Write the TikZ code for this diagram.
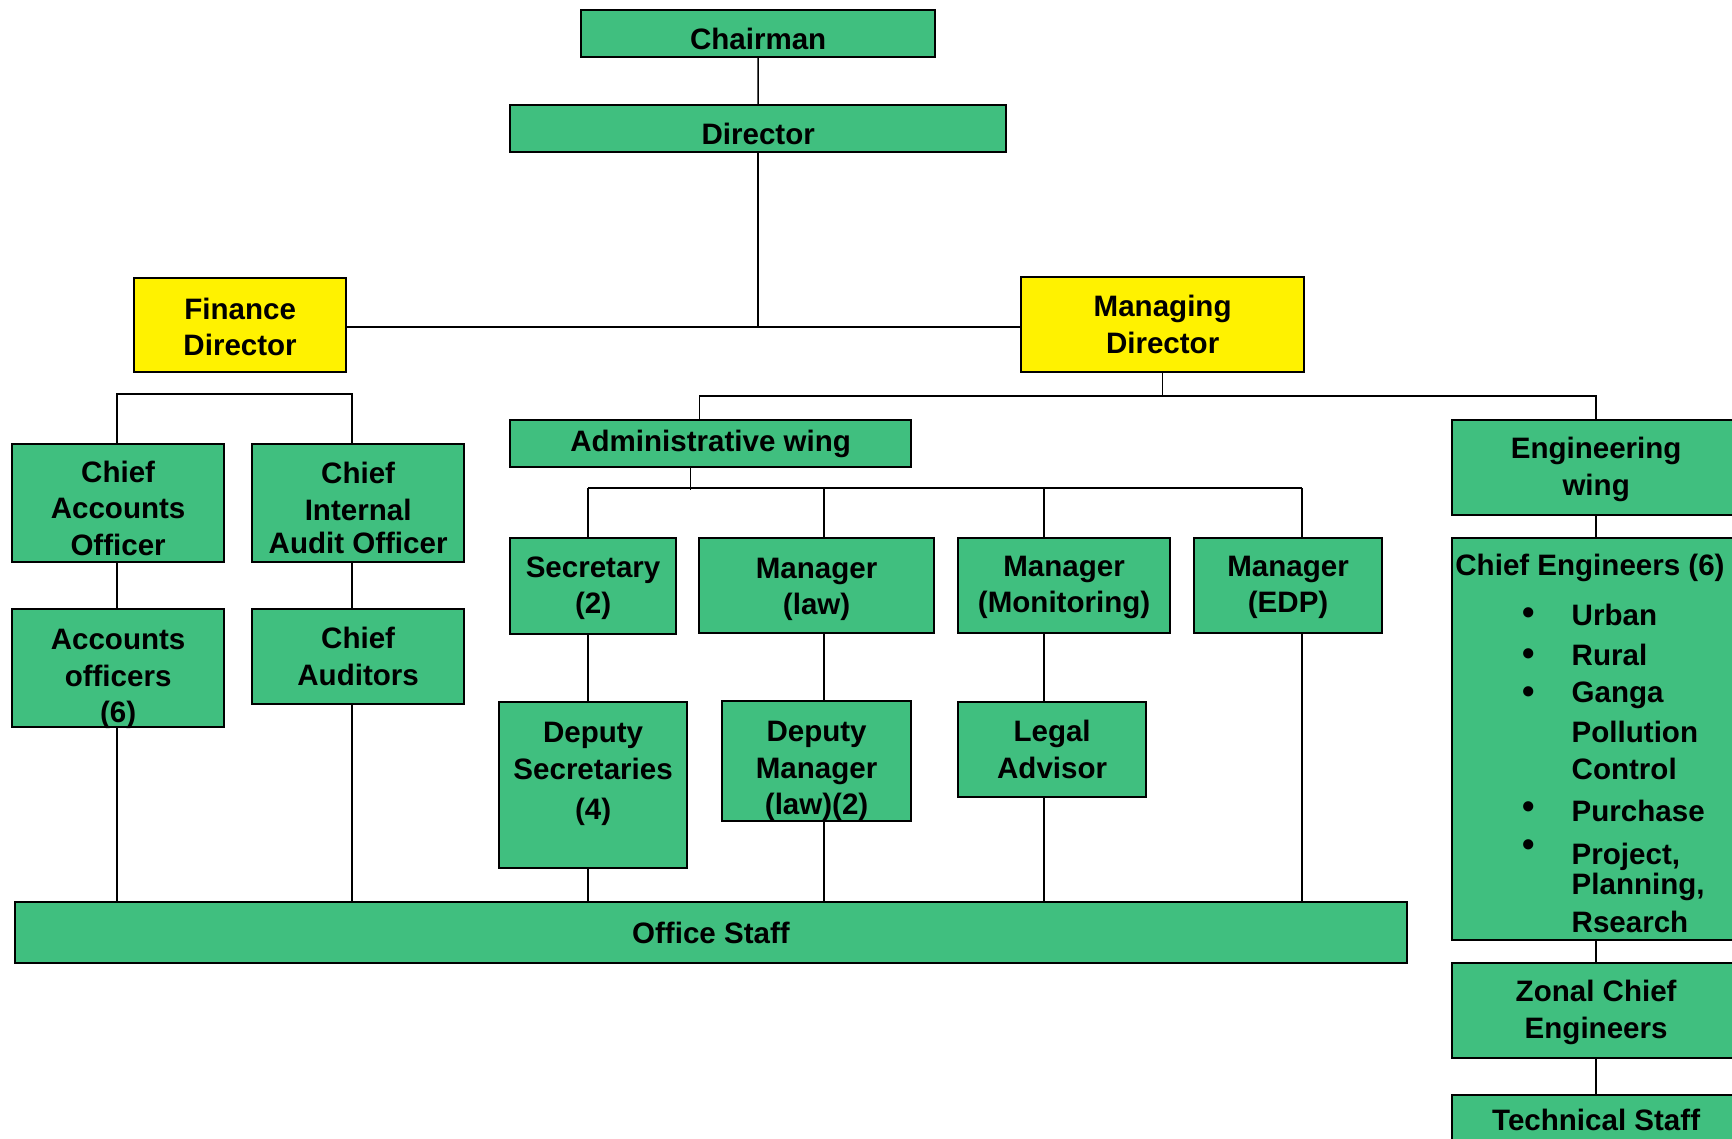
\documentclass[tikz,border=0pt]{standalone}
\usepackage{fontspec}
\setmainfont{Liberation Sans}

\definecolor{boxgreen}{RGB}{64,191,127}
\tikzset{
  post/.style={draw=black, line width=0.6pt, fill=boxgreen, anchor=north west,
    inner sep=0pt},
  head/.style={post, fill=yellow},
  dims/.style 2 args={minimum width=#1, minimum height=#2},
  say/.style={align=center, inner sep=0pt, font=\bfseries\fontsize{8.4}{10.4}\selectfont},
  item/.style={anchor=west, inner sep=0pt, font=\bfseries\fontsize{8.4}{10.4}\selectfont},
  link/.style={line width=0.4pt},
}

\begin{document}
\begin{tikzpicture}[x=0.01cm, y=-0.01cm]
  % page frame in pixels of the sheet, the right column runs off the edge
  \clip (0,0) rectangle (1732,1139);
  % top of the tree
  \node[post, dims={3.54cm}{0.47cm}, label={[say, yshift=-0.055cm]center:Chairman}] (chair) at (580,9) {};
  \node[post, dims={4.96cm}{0.47cm}, label={[say, yshift=-0.055cm]center:Director}] (dir) at (509,104) {};
  \node[head, dims={2.12cm}{0.94cm}, label={[say, yshift=-0.02cm]center:{Finance\\Director}}] (fin) at (133,277) {};
  \node[head, dims={2.83cm}{0.95cm}, label={[say]center:{Managing\\Director}}] (md) at (1020,276) {};
  % finance side
  \node[post, dims={2.12cm}{1.18cm}, label={[say, yshift=-0.05cm]center:{Chief\\Accounts\\Officer}}] (cao) at (11,443) {};
  \node[post, dims={2.12cm}{1.18cm}, label={[say, yshift=-0.05cm]center:{Chief\\Internal\\[-1pt]Audit Officer}}] (ciao) at (251,443) {};
  \node[post, dims={2.12cm}{1.18cm}, label={[say, yshift=-0.11cm]center:{Accounts\\officers\\(6)}}] (ao) at (11,608) {};
  \node[post, dims={2.12cm}{0.95cm}, label={[say]center:{Chief\\Auditors}}] (ca) at (251,608) {};
  % administrative wing
  \node[post, dims={4.01cm}{0.47cm}, label={[say]center:Administrative wing}] (adm) at (509,419) {};
  \node[post, dims={1.66cm}{0.96cm}, label={[say, yshift=-0.02cm]center:{Secretary\\(2)}}] (sec) at (509,537) {};
  \node[post, dims={2.35cm}{0.95cm}, label={[say, yshift=-0.04cm]center:{Manager\\(law)}}] (mlaw) at (698,537) {};
  \node[post, dims={2.12cm}{0.95cm}, label={[say, yshift=-0.02cm]center:{Manager\\(Monitoring)}}] (mmon) at (957,537) {};
  \node[post, dims={1.88cm}{0.95cm}, label={[say, yshift=-0.02cm]center:{Manager\\(EDP)}}] (medp) at (1193,537) {};
  \node[post, dims={1.88cm}{1.66cm}, label={[say, yshift=0.11cm]center:{Deputy\\Secretaries\\[1.2pt](4)}}] (dsec) at (498,701) {};
  \node[post, dims={1.89cm}{1.20cm}, label={[say, yshift=-0.1cm]center:{Deputy\\Manager\\(law)(2)}}] (dml) at (721,700) {};
  \node[post, dims={1.88cm}{0.95cm}, label={[say]center:{Legal\\Advisor}}] (legal) at (957,701) {};
  \node[post, dims={13.91cm}{0.61cm}, label={[say]center:Office Staff}] (office) at (14,901) {};
  % engineering wing
  \node[post, dims={2.88cm}{0.95cm}, label={[say, yshift=-0.02cm]center:{Engineering\\wing}}] (eng) at (1451,419) {};
  \node[post, dims={2.88cm}{4.02cm}] (ce) at (1451,537) {};
  \node[post, dims={2.88cm}{0.95cm}, label={[say, yshift=-0.02cm]center:{Zonal Chief\\Engineers}}] (zce) at (1451,962) {};
  \node[post, dims={2.88cm}{0.50cm}, label={[say]center:Technical Staff}] (tech) at (1451,1094) {};
  % list inside the chief engineers box
  \node[item, anchor=center] (cetitle) at (1590,568) {Chief Engineers (6)};
  \foreach \y/\t [count=\i] in {615/Urban, 655/Rural, 695/Ganga, 732/Pollution,
      769/Control, 811/Purchase, 857/{Project,}, 887/{Planning,}, 922/Rsearch}
    \node[item] (ce\i) at (1571,\y) {\t};
  \foreach \y in {616,657,695,810,848}
    \node[item, anchor=center, scale=1.2] (dot\y) at (1529,\y) {•};

  % chairman down to the two directors
  \coordinate (mid) at (760,327);
  \draw[link] (chair.south) -- (dir.north);
  \draw[link] (dir.south) -- (dir.south |- mid);
  \draw[link] (fin.east |- mid) -- (md.west |- mid);
  % finance bracket, left hanging under the Finance Director
  \coordinate (fl) at (117,394);
  \coordinate (fr) at (352,394);
  \draw[link] (fl |- cao.north) -- (fl) -- (fr) -- (fr |- ciao.north);
  \draw[link] (fl |- cao.south) -- (fl |- ao.north);
  \draw[link] (fl |- ao.south) -- (fl |- office.north);
  \draw[link] (fr |- ciao.south) -- (fr |- ca.north);
  \draw[link] (fr |- ca.south) -- (fr |- office.north);
  % managing director to the two wings
  \draw[link] (md.south) -- ++(0,23) coordinate (mdj);
  \draw[link] ([xshift=-0.11cm]adm.north) |- (mdj) -| (eng.north);
  % administrative wing bracket and its four columns
  \draw[link] ([xshift=-0.2cm]adm.south) -- ++(0,22) coordinate (admj);
  \coordinate (c1) at (588,488);
  \coordinate (c2) at (824,488);
  \coordinate (c3) at (1044,488);
  \coordinate (c4) at (1302,488);
  \draw[link] (c1) -- (c4);
  \draw[link] (c1) -- (c1 |- sec.north) (c1 |- sec.south) -- (c1 |- dsec.north)
    (c1 |- dsec.south) -- (c1 |- office.north);
  \draw[link] (c2) -- (c2 |- mlaw.north) (c2 |- mlaw.south) -- (c2 |- dml.north)
    (c2 |- dml.south) -- (c2 |- office.north);
  \draw[link] (c3) -- (c3 |- mmon.north) (c3 |- mmon.south) -- (c3 |- legal.north)
    (c3 |- legal.south) -- (c3 |- office.north);
  \draw[link] (c4) -- (c4 |- medp.north) (c4 |- medp.south) -- (c4 |- office.north);
  % engineering column
  \draw[link] (eng.south) -- (ce.north);
  \draw[link] (ce.south) -- (zce.north);
  \draw[link] (zce.south) -- (tech.north);
\end{tikzpicture}
\end{document}
